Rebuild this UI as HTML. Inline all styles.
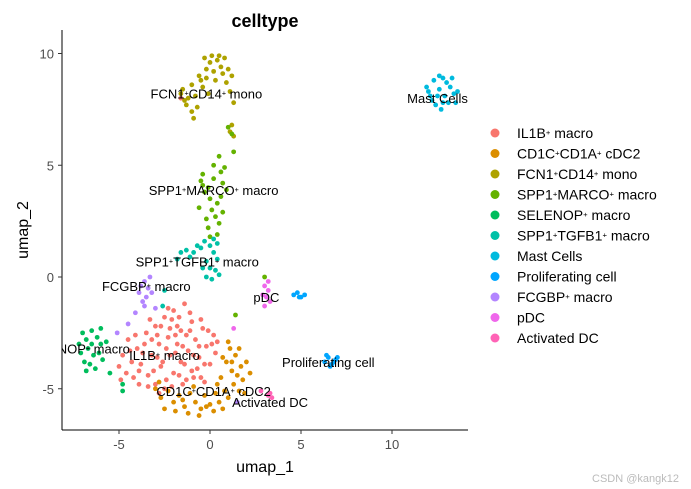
<!DOCTYPE html>
<html><head><meta charset="utf-8"><style>
html,body{margin:0;padding:0;background:#fff;}
svg{display:block;font-family:"Liberation Sans",Arial,sans-serif;}
</style></head><body>
<svg id="chart" width="691" height="489" viewBox="0 0 691 489">
<defs><clipPath id="pc"><rect x="62" y="28" width="420" height="402"/></clipPath></defs>
<text x="265" y="27" text-anchor="middle" font-size="18" font-weight="bold">celltype</text>
<g id="points" clip-path="url(#pc)"></g>
<g id="labels" clip-path="url(#pc)" font-size="13"></g>
<line x1="62" y1="30" x2="62" y2="430" stroke="#000" stroke-width="1"/>
<line x1="62" y1="430" x2="468" y2="430" stroke="#000" stroke-width="1"/>
<g id="ticks" font-size="13" fill="#4d4d4d"></g>
<text x="265" y="472" text-anchor="middle" font-size="16">umap_1</text>
<text transform="translate(28,230) rotate(-90)" text-anchor="middle" font-size="16">umap_2</text>
<g id="legend" font-size="14"></g>
<text x="679" y="482" text-anchor="end" font-size="11" fill="#bbb">CSDN @kangk12</text>
</svg>
<script>
const xTicks=[-5,0,5,10];
const yTicks=[-5,0,5,10];
const clusterNames=["IL1B⁺ macro","CD1C⁺CD1A⁺ cDC2","FCN1⁺CD14⁺ mono","SPP1⁺MARCO⁺ macro","SELENOP⁺ macro","SPP1⁺TGFB1⁺ macro","Mast Cells","Proliferating cell","FCGBP⁺ macro","pDC","Activated DC"];
const clusterColors=["#F8766D","#DB8E00","#AEA200","#64B200","#00BD5C","#00C1A7","#00BADE","#00A6FF","#B385FF","#EF67EB","#FF63B6"];
const il1b=[[-4.5,-2.8],[-4.8,-3.5],[-5,-4],[-4.2,-4.5],[-4,-3.2],[-3.8,-3.9],[-3.5,-2.5],[-3.4,-4.4],[-3.2,-3.5],[-3,-4.8],[-3,-2.2],[-2.8,-3],[-2.7,-4],[-2.5,-1.8],[-2.5,-5],[-2.3,-2.7],[-2.2,-3.5],[-2,-4.3],[-2,-1.5],[-1.8,-2.2],[-1.8,-3],[-1.6,-3.8],[-1.5,-4.8],[-1.4,-1.2],[-1.3,-2.6],[-1.2,-3.3],[-1,-4.2],[-1,-2],[-0.8,-2.8],[-0.6,-3.6],[-0.5,-4.5],[-0.4,-2.3],[-0.2,-3.1],[0,-3.9],[0.2,-2.6],[0.3,-3.4],[-2.6,-3.8],[-3.6,-3],[-4.3,-3.8],[-1.7,-4.4],[-2.4,-4.6],[-0.9,-3.5],[-1.9,-2.6],[-3.1,-4.2],[-2.9,-2.6],[-1.1,-2.4],[-0.3,-3.9],[-4.6,-4.3],[-3.9,-4.8],[-2.1,-1.9],[-1.5,-3.1],[-0.7,-4.1],[-2.8,-5.2],[-3.3,-1.9],[-1.3,-4.6],[0.1,-3],[-2.2,-2.3],[-3.7,-3.4],[-4.1,-2.6],[-0.5,-1.9],[-1.6,8.0],[-2.4,-3.2],[-1.9,-3.4],[-1.4,-3.9],[-0.9,-4.5],[-2.9,-3.6],[-3.4,-4.9],[-4.4,-3.3],[-1.1,-1.6],[-0.1,-2.4],[0.4,-2.9],[-2.7,-2.2],[-2.1,-4.9],[-1.6,-2.4],[-3.2,-2.8],[-0.6,-3.1],[-3.9,-4.2],[-4.9,-4.6],[-2.3,-1.4],[-1.7,-1.8],[-0.3,-4.7]];
const cd1c=[[-3,-5],[-2.7,-5.4],[-2.3,-5.1],[-2,-5.6],[-1.7,-5.3],[-1.4,-5.8],[-1.1,-5.2],[-0.8,-5.6],[-0.5,-5.9],[-0.3,-5.3],[0,-5.7],[0.3,-5.2],[0.5,-5.6],[0.8,-5.1],[1,-5.4],[1.3,-4.8],[1.5,-4.4],[1.7,-4],[1.2,-4.2],[0.9,-3.8],[1.4,-3.5],[1.1,-3.2],[0.7,-3.6],[1.8,-4.6],[2,-3.8],[0.6,-4.5],[-2.5,-5.9],[-1.9,-6],[-1.2,-6.1],[-0.6,-6.2],[0.2,-6],[1.6,-5.1],[2.2,-4.3],[0.4,-4.8],[-2.8,-4.7],[1,-2.9],[1.9,-5.2],[-0.9,-4.9],[-1.5,-5.5],[-0.2,-5.8],[0.7,-5.9],[1.2,-3.8],[1.6,-3.2]];
const fcn1=[[-1.5,8.4],[-1.2,8],[-1,8.6],[-0.8,8.1],[-0.6,9],[-0.4,8.5],[-0.2,9.3],[0,9.6],[0.2,9.2],[0.4,9.7],[0.6,9.4],[0.8,9.8],[1,9.3],[0.3,8.8],[-0.1,8.2],[-1.3,7.7],[-1,7.4],[-0.7,7.6],[1.2,9],[0.9,8.7],[0.5,9.9],[-0.3,9.8],[-1.6,8.2],[-0.9,7.1],[1.1,8.3],[1.3,7.8],[1.2,6.8],[1.1,6.5],[1.3,6.3],[-0.5,8.8],[0.1,9.9],[-1.4,7.9],[-0.2,8.9],[0.7,9.1]];
const marco=[[-0.4,4.1],[-0.3,3.8],[-0.5,4.3],[-0.1,4],[0.2,4.4],[0.6,4.7],[0.7,4.2],[0,3.5],[0.4,3.3],[0.6,3.6],[0.1,3],[-0.2,2.6],[0.3,2.7],[0.5,2.4],[-0.1,2.2],[0,1.8],[0.4,1.9],[0.8,4.9],[-0.6,3.1],[0.9,3.9],[0.2,5],[0.5,5.4],[-0.4,4.6],[0.7,2.9],[1.2,6.4],[1,6.7],[1.3,5.6],[3,0],[1.4,-1.7]];
const selenop=[[-7,-2.5],[-6.8,-2.8],[-6.5,-2.4],[-6.2,-2.7],[-6,-3],[-6.7,-3.2],[-6.4,-3.5],[-6.1,-3.4],[-7.1,-3.4],[-6.9,-3.8],[-6.6,-3.9],[-6.3,-4.1],[-5.9,-3.7],[-6.8,-4.2],[-5.7,-2.9],[-6.5,-3],[-7.2,-3],[-6,-2.3],[-5.5,-4.3],[-4.8,-4.8],[-4.8,-5.1]];
const tgfb1=[[-1.6,1.1],[-1.3,1.2],[-1.1,0.9],[-0.9,1.1],[-0.5,1.3],[-0.3,1.6],[0,1.4],[0.2,1.1],[0.4,1.5],[-0.2,0.7],[0,0.4],[0.3,0.3],[-0.2,0],[0.1,-0.1],[-0.4,0.4],[0.4,0.8],[-0.7,1.4],[0.2,1.7],[-1.8,0.8],[-2.5,-0.6],[-2.6,-1.3],[0.5,0.1]];
const mast=[[11.9,8.5],[12.1,8.1],[12.3,8.8],[12.4,7.7],[12.6,8.4],[12.7,7.5],[12.8,8.9],[12.9,8.1],[13.1,7.8],[13.2,8.5],[13.4,8.2],[13.5,7.8],[12.5,8.1],[12.2,7.9],[13,8.7],[12.8,7.8],[13.3,8.9],[12.6,9],[13.6,8.3],[12,8.3]];
const prolif=[[4.6,-0.8],[4.8,-0.7],[5,-0.9],[5.2,-0.8],[4.9,-0.9],[6.3,-3.8],[6.5,-3.6],[6.7,-3.9],[6.9,-3.7],[6.6,-4],[7,-3.6],[6.4,-3.5],[6.8,-3.8]];
const fcgbp=[[-3.8,-0.4],[-3.6,-0.2],[-3.4,-0.5],[-3.5,-0.9],[-3.2,-0.7],[-3.9,-0.7],[-3.7,-1.1],[-3.3,0],[-4.1,-1.6],[-4.5,-2.1],[-3,-1.4],[-3.6,-1.3],[-5.1,-2.5],[1.5,-5.6]];
const pdc=[[3,-0.4],[3.2,-0.6],[3.1,-0.9],[3.3,-1.1],[3,-1.3],[3.2,-0.2],[2.9,-0.8],[1.3,-2.3]];
const activated=[[3.2,-5.3],[3.4,-5.4],[3.3,-5.2],[2.8,-5.1]];
const clusterPoints=[il1b,cd1c,fcn1,marco,selenop,tgfb1,mast,prolif,fcgbp,pdc,activated];
const labelPos=[[-2.5,-3.5],[0.2,-5.1],[-0.2,8.2],[0.2,3.9],[-7.3,-3.2],[-0.7,0.7],[12.5,8],[6.5,-3.8],[-3.5,-0.4],[3.1,-0.9],[3.3,-5.6]];
const NS="http://www.w3.org/2000/svg";
const sx=v=>210+v*18.2;
const sy=v=>277-v*22.35;
const pg=document.getElementById('points');
clusterPoints.forEach((pts,ci)=>{
  pts.forEach(p=>{
    const c=document.createElementNS(NS,'circle');
    c.setAttribute('cx',sx(p[0]));c.setAttribute('cy',sy(p[1]));c.setAttribute('r',2.4);
    c.setAttribute('fill',clusterColors[ci]);
    
    
    pg.appendChild(c);
  });
});
function richText(parent,str,fs){
  str.split(/(⁺)/).forEach(s=>{
    if(!s)return;
    const t=document.createElementNS(NS,'tspan');
    if(s==='⁺'){t.textContent='+';t.setAttribute('font-size',fs*0.55);t.setAttribute('baseline-shift','40%');}
    else t.textContent=s;
    parent.appendChild(t);
  });
}
const lg=document.getElementById('labels');
labelPos.forEach((p,i)=>{
  const t=document.createElementNS(NS,'text');
  t.setAttribute('x',sx(p[0]));t.setAttribute('y',sy(p[1])+5);t.setAttribute('text-anchor','middle');
  
  
  richText(t,clusterNames[i],13);lg.appendChild(t);
});
const tg=document.getElementById('ticks');
xTicks.forEach(v=>{
  const l=document.createElementNS(NS,'line');
  l.setAttribute('x1',sx(v));l.setAttribute('x2',sx(v));l.setAttribute('y1',430);l.setAttribute('y2',434);l.setAttribute('stroke','#333');
  
  
  tg.appendChild(l);
  const t=document.createElementNS(NS,'text');
  t.setAttribute('x',sx(v));t.setAttribute('y',449);t.setAttribute('text-anchor','middle');t.textContent=v;
  
  
  tg.appendChild(t);
});
yTicks.forEach(v=>{
  const l=document.createElementNS(NS,'line');
  l.setAttribute('x1',58);l.setAttribute('x2',62);l.setAttribute('y1',sy(v));l.setAttribute('y2',sy(v));l.setAttribute('stroke','#333');
  
  
  tg.appendChild(l);
  const t=document.createElementNS(NS,'text');
  t.setAttribute('x',54);t.setAttribute('y',sy(v)+5);t.setAttribute('text-anchor','end');t.textContent=v;
  
  
  tg.appendChild(t);
});
const leg=document.getElementById('legend');
clusterNames.forEach((n,i)=>{
  const y=133+i*20.5;
  const g=document.createElementNS(NS,'g');
  
  
  const c=document.createElementNS(NS,'circle');
  c.setAttribute('cx',495);c.setAttribute('cy',y);c.setAttribute('r',4.5);c.setAttribute('fill',clusterColors[i]);
  
  
  g.appendChild(c);
  const t=document.createElementNS(NS,'text');
  t.setAttribute('x',517);t.setAttribute('y',y+5);
  
  
  richText(t,n,14);g.appendChild(t);
  leg.appendChild(g);
});
</script>
</body></html>
